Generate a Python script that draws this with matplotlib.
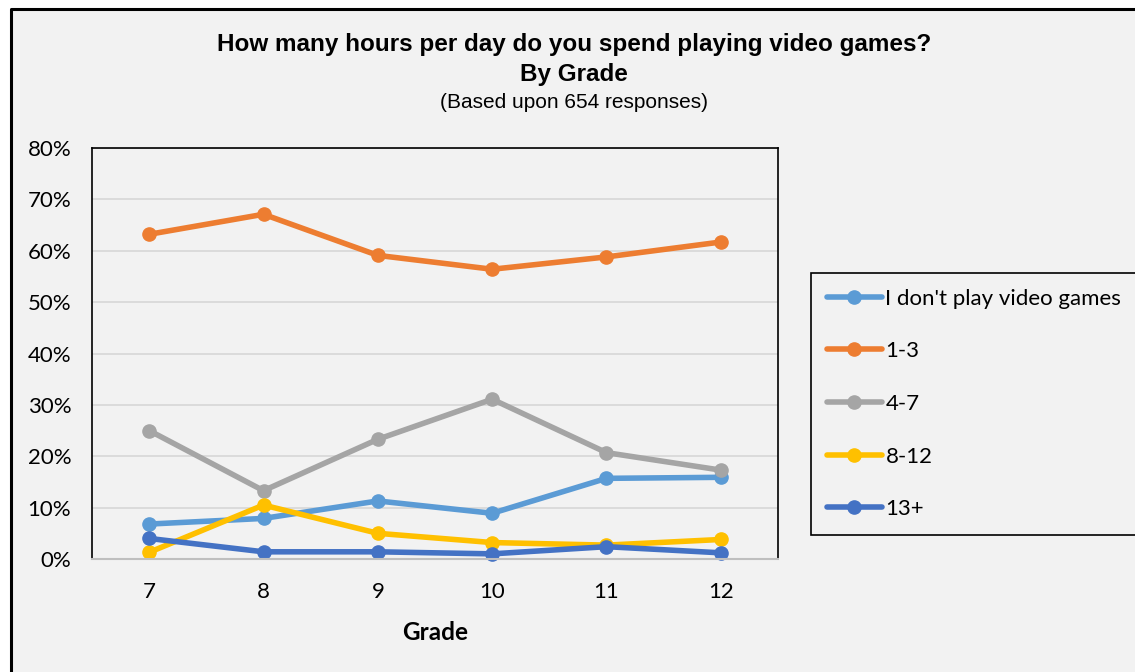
import matplotlib
matplotlib.use("Agg")
import matplotlib.pyplot as plt
from matplotlib.lines import Line2D
from matplotlib.patches import Rectangle
from matplotlib.ticker import PercentFormatter

# survey answers by grade, share of respondents (%)
grades = [7, 8, 9, 10, 11, 12]
no_play = [6.8, 7.9, 11.3, 8.9, 15.7, 15.9]
h1_3 = [63.2, 67.1, 59.1, 56.4, 58.8, 61.7]
h4_7 = [25.0, 13.3, 23.3, 31.1, 20.7, 17.3]
h8_12 = [1.3, 10.5, 5.0, 3.2, 2.7, 3.8]
h13 = [4.0, 1.4, 1.4, 1.0, 2.4, 1.2]
labels = ["I don't play video games", "1-3", "4-7", "8-12", "13+"]

_BG = "#f2f2f2"
_COLORS = ["#5b9bd5", "#ed7d31", "#a5a5a5", "#ffc000", "#4472c4"]
_SANS = ["Lato", "DejaVu Sans"]
_TITLE = ["Liberation Sans", "DejaVu Sans"]

fig = plt.figure(figsize=(11.35, 6.72), dpi=100)
fig.patch.set_facecolor("white")
# chart area panel: only its left and top border fall inside the picture
x0, y0 = 10.5 / 1135, 1 - 8.5 / 672
fig.patches.append(Rectangle((x0, 0), 1, y0, transform=fig.transFigure,
                             facecolor=_BG, edgecolor="none", zorder=-10))
fig.lines.append(Line2D([x0, x0, 1], [0, y0, y0], transform=fig.transFigure,
                        color="black", linewidth=2.2))

ax = fig.add_axes([92 / 1135, 1 - 559 / 672, (778 - 92) / 1135, (559 - 148) / 672])
ax.set_facecolor(_BG)

for vals, lab, col in zip([no_play, h1_3, h4_7, h8_12, h13], labels, _COLORS):
    ax.plot(grades, vals, color=col, linewidth=4, marker="o", markersize=9.5,
            label=lab, solid_capstyle="round", clip_on=False)

ax.set_xlim(6.5, 12.5)
ax.set_ylim(0, 80)
ax.set_yticks(range(0, 81, 10))
ax.yaxis.set_major_formatter(PercentFormatter(decimals=0))
ax.set_xticks(grades)
ax.grid(axis="y", color="#d9d9d9", linewidth=1.3)
ax.set_axisbelow(True)
ax.tick_params(length=0, labelsize=16)
ax.tick_params(axis="x", pad=16.5)
ax.tick_params(axis="y", pad=15)
for t in ax.get_xticklabels() + ax.get_yticklabels():
    t.set_family(_SANS)
for s in ["left", "top", "right"]:
    ax.spines[s].set_color("black"); ax.spines[s].set_linewidth(1.2)
ax.spines["bottom"].set_color("#bfbfbf"); ax.spines["bottom"].set_linewidth(1.5)

ax.set_xlabel("Grade", family=_SANS, fontsize=17.5, fontweight="bold", labelpad=14)

fig.text(0.506, 1 - 45 / 672, "How many hours per day do you spend playing video games?",
         ha="center", va="center", fontsize=17.5, fontweight="bold", family=_TITLE)
fig.text(0.506, 1 - 74 / 672, "By Grade", ha="center", va="center", fontsize=17.5,
         fontweight="bold", family=_TITLE)
fig.text(0.506, 1 - 102 / 672, "(Based upon 654 responses)", ha="center", va="center",
         fontsize=15, family=_TITLE)

leg = fig.legend(loc="upper left", bbox_to_anchor=(811 / 1135, 1 - 273 / 672),
                 prop={"family": _SANS, "size": 16}, frameon=True, fancybox=False,
                 edgecolor="black", facecolor=_BG, framealpha=1, handlelength=2.5,
                 handletextpad=0.15, labelspacing=1.47, borderpad=0.7, borderaxespad=0)
leg.get_frame().set_linewidth(1.2)

fig.savefig("out.png", dpi=100, facecolor=fig.get_facecolor())
